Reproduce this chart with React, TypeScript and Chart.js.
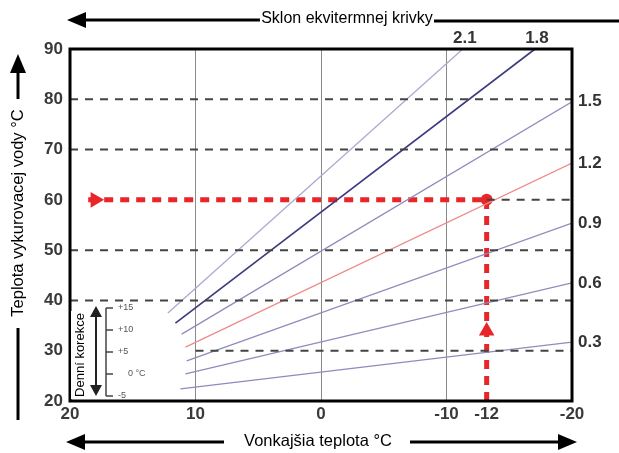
import React, { useEffect, useRef } from 'react';
import { Chart, registerables } from 'chart.js';
Chart.register(...registerables);

// Heating curves (slope label, outdoor temp start/end, flow temp start/end)
const slopeLabels = ['2.1', '1.8', '1.5', '1.2', '0.9', '0.6', '0.3'];
const curveOutdoorStart = [12.2, 11.6, 11.1, 10.8, 10.7, 10.8, 11.2];
const curveOutdoorEnd = [-11.3, -17.05, -20, -20, -20, -20, -20];
const curveFlowStart = [37.5, 35.5, 33.3, 30.7, 28.0, 25.4, 22.4];
const curveFlowEnd = [90, 90, 79.5, 67.3, 55.4, 43.5, 31.7];
const curveColors = ['#aaaad2', '#3c3c7e', '#8c8cbd', '#ee8a8a', '#8c8cbd', '#8c8cbd', '#8c8cbd'];
const curveWidths = [1.3, 1.7, 1.3, 1.3, 1.3, 1.3, 1.3];

// Axis ticks
const xTickValues = [20, 10, 0, -10, -13.2, -20];
const xTickLabels = ['20', '10', '0', '-10', '-12', '-20'];
const xGridValues = [10, 0, -10];
const yTickValues = [20, 30, 40, 50, 60, 70, 80, 90];

// Dashed reference levels
const fullLevels = [80, 70, 50, 40];
const level30From = 10;
const level30 = 30;

// Design point
const designOutdoor = -13.2; // shown as -12
const designFlow = 60;
const redLineStart = 18.55;
const rightArrowOutdoor = 18.0;
const upArrowFlow = 33.9;

// Daily correction scale
const correctionLabels = ['+15', '+10', '+5', '0 °C', '-5'];

const FONT = '"Liberation Sans", Arial, Helvetica, sans-serif';

function head(ctx: CanvasRenderingContext2D, tx: number, ty: number, dir: 'l' | 'r' | 'u' | 'd', len: number, hw: number) {
  ctx.beginPath();
  if (dir === 'l') { ctx.moveTo(tx, ty); ctx.lineTo(tx + len, ty - hw); ctx.lineTo(tx + len, ty + hw); }
  if (dir === 'r') { ctx.moveTo(tx, ty); ctx.lineTo(tx - len, ty - hw); ctx.lineTo(tx - len, ty + hw); }
  if (dir === 'u') { ctx.moveTo(tx, ty); ctx.lineTo(tx - hw, ty + len); ctx.lineTo(tx + hw, ty + len); }
  if (dir === 'd') { ctx.moveTo(tx, ty); ctx.lineTo(tx - hw, ty - len); ctx.lineTo(tx + hw, ty - len); }
  ctx.closePath();
  ctx.fill();
}

function line(ctx: CanvasRenderingContext2D, x1: number, y1: number, x2: number, y2: number) {
  ctx.beginPath();
  ctx.moveTo(x1, y1);
  ctx.lineTo(x2, y2);
  ctx.stroke();
}

const decoPlugin = {
  id: 'deco',
  afterDraw(chart: any) {
    const ctx: CanvasRenderingContext2D = chart.ctx;
    const { left, right, top, bottom } = chart.chartArea;
    const xs = chart.scales.x;
    const ys = chart.scales.y;
    ctx.save();

    // frame
    ctx.strokeStyle = '#000';
    ctx.lineWidth = 3;
    ctx.strokeRect(left, top, right - left, bottom - top);

    // slope labels
    ctx.fillStyle = '#333';
    ctx.font = `bold 17px ${FONT}`;
    slopeLabels.forEach((lab, i) => {
      const px = xs.getPixelForValue(curveOutdoorEnd[i]);
      const py = ys.getPixelForValue(curveFlowEnd[i]);
      if (curveFlowEnd[i] >= 90) {
        ctx.textAlign = 'center';
        ctx.textBaseline = 'bottom';
        ctx.fillText(lab, px + 2, top - 2);
      } else {
        ctx.textAlign = 'left';
        ctx.textBaseline = 'middle';
        ctx.fillText(lab, right + 6, py);
      }
    });

    // daily correction inset
    ctx.fillStyle = '#fff';
    ctx.fillRect(left + 1, 311, 16, 88);
    ctx.fillStyle = '#000';
    ctx.font = `13px ${FONT}`;
    ctx.save();
    ctx.translate(left + 10, 355);
    ctx.rotate(-Math.PI / 2);
    ctx.textAlign = 'center';
    ctx.textBaseline = 'middle';
    ctx.fillText('Denní korekce', 0, 0);
    ctx.restore();
    ctx.strokeStyle = '#222';
    ctx.fillStyle = '#222';
    ctx.lineWidth = 2;
    line(ctx, left + 26, 314, left + 26, 388);
    head(ctx, left + 26, 306, 'u', 11, 6);
    head(ctx, left + 26, 396, 'd', 11, 6);
    ctx.strokeStyle = '#444';
    ctx.lineWidth = 1.5;
    const bx = left + 36;
    const tickYs = [308, 330, 352, 374, 396];
    line(ctx, bx, tickYs[0], bx, tickYs[4]);
    ctx.fillStyle = '#555';
    ctx.font = `9px ${FONT}`;
    ctx.textAlign = 'left';
    ctx.textBaseline = 'middle';
    correctionLabels.forEach((lab, i) => {
      line(ctx, bx, tickYs[i], bx + 7, tickYs[i]);
      const off = lab.startsWith('0') ? 22 : 12;
      ctx.fillText(lab, bx + off, tickYs[i]);
    });

    // titles and arrows
    ctx.fillStyle = '#000';
    ctx.strokeStyle = '#000';
    ctx.lineWidth = 3;
    ctx.font = `16px ${FONT}`;
    ctx.textAlign = 'center';
    ctx.textBaseline = 'middle';
    ctx.fillText('Sklon ekvitermnej krivky', 347, 19);
    line(ctx, 84, 20, 260, 20);
    head(ctx, 67, 20, 'l', 19, 8);
    line(ctx, 434, 21, 619, 21);

    ctx.font = `16.5px ${FONT}`;
    ctx.fillText('Vonkajšia teplota °C', 318, 441);
    line(ctx, 84, 442, 224, 442);
    head(ctx, 66, 442, 'l', 19, 8);
    line(ctx, 410, 442, 560, 442);
    head(ctx, 577, 442, 'r', 19, 8);

    ctx.save();
    ctx.translate(18, 213);
    ctx.rotate(-Math.PI / 2);
    ctx.fillText('Teplota vykurovacej vody °C', 0, 0);
    ctx.restore();
    line(ctx, 18, 70, 18, 99);
    head(ctx, 18, 54, 'u', 19, 8);
    line(ctx, 18, 328, 18, 420);

    ctx.restore();
  },
};

export default function App() {
  const ref = useRef<HTMLCanvasElement | null>(null);

  useEffect(() => {
    if (!ref.current) return;
    const datasets: any[] = [];
    const gray = '#444';
    const red = '#e8262a';

    fullLevels.forEach((lv) => {
      datasets.push({
        data: [{ x: 20, y: lv }, { x: -20, y: lv }],
        borderColor: gray, borderWidth: 2, borderDash: [8, 7], pointRadius: 0,
      });
    });
    datasets.push({
      data: [{ x: level30From, y: level30 }, { x: -20, y: level30 }],
      borderColor: gray, borderWidth: 2, borderDash: [8, 7], pointRadius: 0,
    });
    datasets.push({
      data: [{ x: designOutdoor, y: designFlow }, { x: -20, y: designFlow }],
      borderColor: gray, borderWidth: 2, borderDash: [8, 7], pointRadius: 0,
    });

    slopeLabels.forEach((lab, i) => {
      datasets.push({
        label: lab,
        data: [
          { x: curveOutdoorStart[i], y: curveFlowStart[i] },
          { x: curveOutdoorEnd[i], y: curveFlowEnd[i] },
        ],
        borderColor: curveColors[i], borderWidth: curveWidths[i], pointRadius: 0,
      });
    });

    datasets.push({
      data: [{ x: redLineStart, y: designFlow }, { x: designOutdoor, y: designFlow }],
      borderColor: red, borderWidth: 5, borderDash: [9, 7], pointRadius: 0,
    });
    datasets.push({
      data: [{ x: designOutdoor, y: 20 }, { x: designOutdoor, y: designFlow }],
      borderColor: red, borderWidth: 5, borderDash: [9, 7], pointRadius: 0,
    });
    datasets.push({
      data: [{ x: designOutdoor, y: designFlow }],
      showLine: false, pointRadius: 6, pointStyle: 'circle',
      backgroundColor: red, borderColor: red, borderWidth: 0,
    });
    datasets.push({
      data: [{ x: rightArrowOutdoor, y: designFlow }],
      showLine: false, pointRadius: 9, pointStyle: 'triangle', rotation: 90,
      backgroundColor: red, borderColor: red, borderWidth: 0,
    });
    datasets.push({
      data: [{ x: designOutdoor, y: upArrowFlow }],
      showLine: false, pointRadius: 9, pointStyle: 'triangle', rotation: 0,
      backgroundColor: red, borderColor: red, borderWidth: 0,
    });

    const tickFont = { family: FONT, size: 17, weight: 'bold' as const };

    const chart = new Chart(ref.current, {
      type: 'line',
      data: { datasets },
      options: {
        responsive: false,
        animation: false,
        events: [],
        layout: { padding: { left: 0, top: 49, right: 47, bottom: 0 } },
        plugins: { legend: { display: false }, tooltip: { enabled: false } },
        scales: {
          x: {
            type: 'linear',
            reverse: true,
            min: -20,
            max: 20,
            afterBuildTicks: (s: any) => { s.ticks = xTickValues.map((v) => ({ value: v })); },
            afterFit: (s: any) => { s.height = 52; },
            ticks: {
              autoSkip: false,
              maxRotation: 0,
              padding: 3,
              color: '#3a3a3a',
              font: tickFont,
              callback: (v: any) => {
                const idx = xTickValues.indexOf(Number(v));
                return idx >= 0 ? xTickLabels[idx] : '';
              },
            },
            grid: {
              drawTicks: false,
              lineWidth: 1,
              color: (c: any) => (c.tick && xGridValues.includes(c.tick.value) ? '#8a8a8a' : 'rgba(0,0,0,0)'),
            },
            border: { display: false },
          },
          y: {
            type: 'linear',
            min: 20,
            max: 90,
            afterBuildTicks: (s: any) => { s.ticks = yTickValues.map((v) => ({ value: v })); },
            afterFit: (s: any) => { s.width = 70; },
            ticks: { padding: 7, color: '#3a3a3a', font: tickFont },
            grid: { display: false, drawTicks: false },
            border: { display: false },
          },
        },
      },
      plugins: [decoPlugin],
    });
    return () => chart.destroy();
  }, []);

  return (
    <div style={{ position: 'fixed', left: 0, top: 0, width: 619, height: 453, background: '#fff' }}>
      <canvas ref={ref} width={619} height={453} style={{ display: 'block', width: 619, height: 453 }} />
    </div>
  );
}
